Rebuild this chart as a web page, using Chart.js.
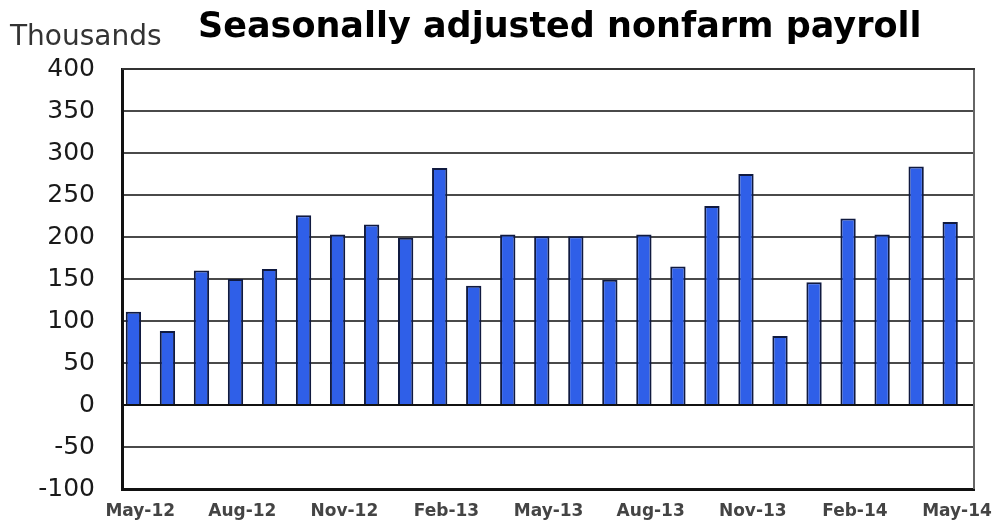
<!DOCTYPE html>
<html>
<head>
<meta charset="utf-8">
<title>Seasonally adjusted nonfarm payroll</title>
<script src="https://cdn.jsdelivr.net/npm/chart.js@4.4.1/dist/chart.umd.min.js"></script>
<style>
  html, body { margin: 0; padding: 0; background: #fff; }
  #wrap { width: 1005px; height: 531px; }
</style>
</head>
<body>
<div id="wrap"><canvas id="payrollChart" width="1005" height="531"></canvas></div>
<script>
// monthly change, thousands, May-12 .. May-14
const months = ['May-12', 'Jun-12', 'Jul-12', 'Aug-12', 'Sep-12', 'Oct-12', 'Nov-12', 'Dec-12',
  'Jan-13', 'Feb-13', 'Mar-13', 'Apr-13', 'May-13', 'Jun-13', 'Jul-13', 'Aug-13', 'Sep-13',
  'Oct-13', 'Nov-13', 'Dec-13', 'Jan-14', 'Feb-14', 'Mar-14', 'Apr-14', 'May-14'];
const payrolls = [111, 88, 160, 150, 162, 226, 203, 215, 199, 282, 142, 203, 201,
  201, 149, 203, 165, 237, 275, 82, 146, 222, 203, 284, 218];
const xTickLabels = ['May-12', 'Aug-12', 'Nov-12', 'Feb-13', 'May-13', 'Aug-13', 'Nov-13', 'Feb-14', 'May-14'];
const xTickIndex = [0, 3, 6, 9, 12, 15, 18, 21, 24];
const yMin = -100, yMax = 400, yStep = 50;

const titleText = 'Seasonally adjusted nonfarm payroll';
const unitText = 'Thousands';

const font = "'DejaVu Sans', 'Liberation Sans', Arial, sans-serif";

// title + unit label + right frame edge
const decor = {
  id: 'decor',
  afterDraw(chart) {
    const { ctx, chartArea } = chart;
    ctx.save();
    ctx.fillStyle = '#000';
    ctx.font = 'bold 35px ' + font;
    ctx.textBaseline = 'middle';
    ctx.textAlign = 'left';
    ctx.fillText(titleText, 198, 28);
    ctx.fillStyle = '#333';
    ctx.font = '28px ' + font;
    ctx.fillText(unitText, 10, 38);

    ctx.strokeStyle = '#666';
    ctx.lineWidth = 2;
    ctx.beginPath();
    ctx.moveTo(chartArea.right, chartArea.top - 1);
    ctx.lineTo(chartArea.right, chartArea.bottom);
    ctx.stroke();
    ctx.strokeStyle = '#333';
    ctx.beginPath();
    ctx.moveTo(chartArea.left, chartArea.top);
    ctx.lineTo(chartArea.right + 1, chartArea.top);
    ctx.stroke();
    ctx.restore();
  }
};

new Chart(document.getElementById('payrollChart'), {
  type: 'bar',
  data: {
    datasets: [{
      label: 'Nonfarm payroll',
      data: payrolls.map((v, i) => ({ x: i, y: v })),
      backgroundColor: '#2f5fe8',
      borderColor: '#101a40',
      borderWidth: 2,
      categoryPercentage: 1,
      barPercentage: 0.45
    }]
  },
  options: {
    responsive: false,
    animation: false,
    layout: { padding: { top: 69, right: 31, left: 0, bottom: 0 } },
    plugins: {
      legend: { display: false },
      tooltip: { enabled: false }
    },
    scales: {
      x: {
        type: 'linear',
        offset: false,
        min: -0.335,
        max: 24.7,
        afterBuildTicks(scale) {
          scale.ticks = xTickIndex.map(i => ({ value: i + 0.2 }));
        },
        afterFit(scale) { scale.height = 37; },
        ticks: {
          autoSkip: false,
          maxRotation: 0,
          padding: 12,
          color: '#444',
          font: { family: font, size: 17, weight: 'bold' },
          callback: (v, i) => xTickLabels[i]
        },
        grid: { display: false, drawTicks: false },
        border: { display: true, color: '#111', width: 3 }
      },
      y: {
        min: yMin,
        max: yMax,
        afterFit(scale) { scale.width = 122; },
        ticks: {
          stepSize: yStep,
          padding: 27,
          color: '#1a1a1a',
          font: { family: font, size: 25 }
        },
        grid: {
          drawTicks: false,
          color: c => c.tick && c.tick.value === 0 ? '#111' : '#4a4a4a',
          lineWidth: 2
        },
        border: { display: true, color: '#111', width: 3 }
      }
    }
  },
  plugins: [decor]
});
</script>
</body>
</html>
